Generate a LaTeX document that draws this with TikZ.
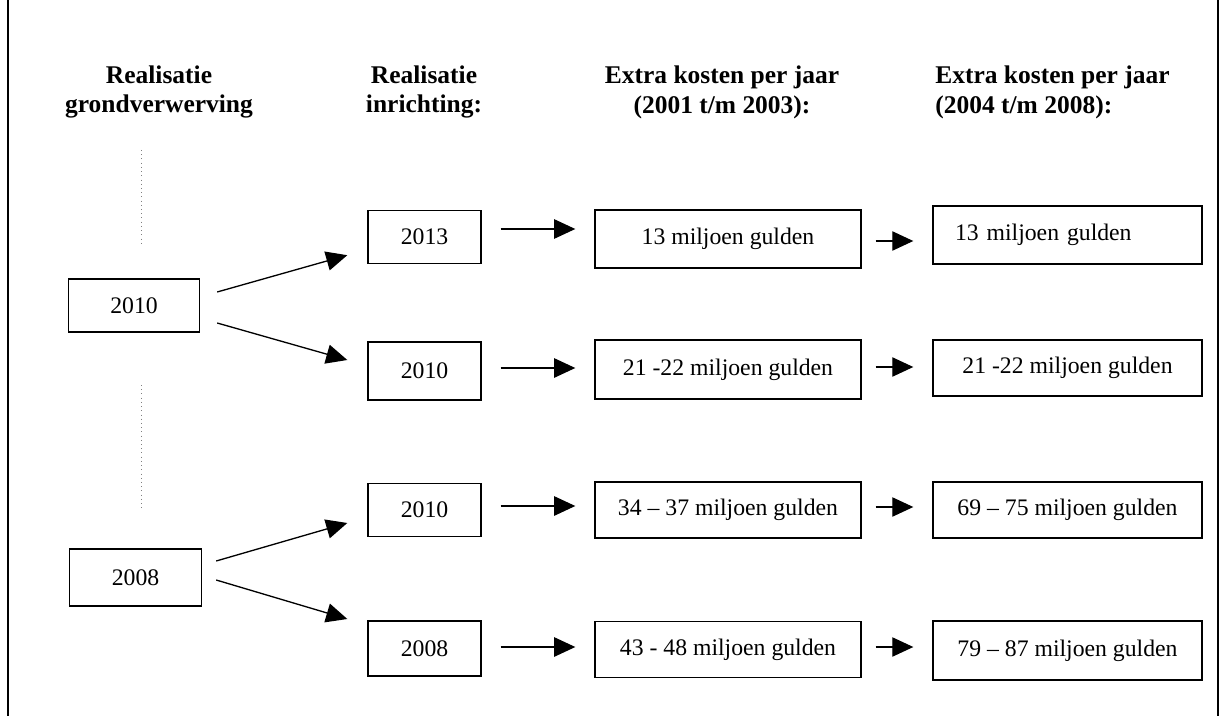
\documentclass[tikz,border=0pt]{standalone}
\usepackage{fontspec}
\setmainfont{Liberation Serif}
\usetikzlibrary{positioning,calc,arrows.meta}

\tikzset{
  jaar/.style={draw, line width=0.8pt, minimum width=2.26cm, minimum height=1.06cm,
    inner sep=0pt, font=\fontsize{13.5}{16}\selectfont},
  kosten/.style={jaar, minimum width=5.32cm, minimum height=1.12cm},
  kop/.style={font=\bfseries\fontsize{14.5}{17}\selectfont, align=center, inner sep=0pt},
  pijl/.style={-{Triangle[length=12pt,width=11pt]}, line width=0.75pt},
}

\begin{document}
\begin{tikzpicture}[x=0.02cm, y=-0.02cm]
    \useasboundingbox (0,0) rectangle (1220,716);

    % Frame (left and right side only)
    \draw[line width=1pt] (8,0) -- (8,716);
    \draw[line width=1pt] (1218,0) -- (1218,716);

    % Column headers
    \node[kop] (kopGrond) at (159,92) {Realisatie\\grondverwerving};
    \node[kop] (kopInr) at (424,92) {Realisatie\\inrichting:};
    \node[kop] (kopKost1) at (722,92) {Extra kosten per jaar\\(2001 t/m 2003):};
    \node[kop, anchor=west, align=left] (kopKost2) at (935,92) {Extra kosten per jaar\\(2004 t/m 2008):};

    % Dotted guide lines
    \draw[dotted, gray] (141,150) -- (141,244);
    \draw[dotted, gray] (141,385) -- (141,508);

    % Grondverwerving
    \node[jaar, minimum width=2.62cm] (g2010) at (134,305.5) {2010};
    \node[jaar, minimum width=2.64cm, minimum height=1.14cm] (g2008) at (135.5,577.5) {2008};

    % Inrichting
    \node[jaar] (i2013) at (424.5,237) {2013};
    \node[jaar, minimum height=1.16cm] (i2010a) at (424.5,371) {2010};
    \node[jaar] (i2010b) at (424.5,510) {2010};
    \node[jaar, minimum height=1.1cm] (i2008) at (424.5,648.5) {2008};

    % Extra kosten 2001 t/m 2003
    \node[kosten, minimum height=1.16cm] (a1) at (728,239) {13 miljoen gulden};
    \node[kosten, minimum height=1.18cm] (a2) at (728,369.5) {21 -22 miljoen gulden};
    \node[kosten] (a3) at (728,510) {34 – 37 miljoen gulden};
    \node[kosten] (a4) at (728,649.5) {43 - 48 miljoen gulden};

    % Extra kosten 2004 t/m 2008
    \node[kosten, minimum width=5.38cm, minimum height=1.16cm, text width=4.5cm, align=left] (b1) at (1067.5,235) {13 miljoen gulden};
    \node[kosten, minimum width=5.38cm] (b2) at (1067.5,368) {21 -22 miljoen gulden};
    \node[kosten, minimum width=5.38cm] (b3) at (1067.5,510) {69 – 75 miljoen gulden};
    \node[kosten, minimum width=5.38cm, minimum height=1.18cm] (b4) at (1067.5,650.5) {79 – 87 miljoen gulden};

    % Split arrows
    \draw[pijl] ($(g2010.east)+(17,-13.5)$) -- ($(i2013.south west)+(-20,-9)$);
    \draw[pijl] ($(g2010.east)+(17,17.5)$) -- ($(i2010a.west)+(-20,-11)$);
    \draw[pijl] ($(g2008.east)+(14,-16.5)$) -- ($(i2010b.west)+(-20,13)$);
    \draw[pijl] ($(g2008.east)+(14,2.5)$) -- ($(i2008.west)+(-20,-29.5)$);

    % Inrichting -> kosten 2001 t/m 2003
    \draw[pijl] ($(i2013.east)+(19,-8)$) -- ($(a1.west)+(-19,-10)$);
    \draw[pijl] ($(i2010a.east)+(19,-3)$) -- ($(a2.west)+(-19,-1.5)$);
    \draw[pijl] ($(i2010b.east)+(19,-4)$) -- ($(a3.west)+(-19,-4)$);
    \draw[pijl] ($(i2008.east)+(19,-1.5)$) -- ($(a4.west)+(-19,-2.5)$);

    % Kosten 2001 t/m 2003 -> kosten 2004 t/m 2008
    \draw[pijl] ($(a1.east)+(14,2)$) -- ($(b1.west)+(-19,6)$);
    \draw[pijl] ($(a2.east)+(14,-2.5)$) -- ($(b2.west)+(-19,-1)$);
    \draw[pijl] ($(a3.east)+(14,-3)$) -- ($(b3.west)+(-19,-3)$);
    \draw[pijl] ($(a4.east)+(14,-2.5)$) -- ($(b4.west)+(-19,-3.5)$);
\end{tikzpicture}
\end{document}
